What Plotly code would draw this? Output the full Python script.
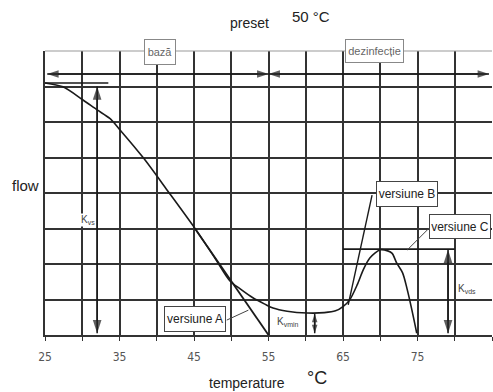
import plotly.graph_objects as go

# ---- data (temperature °C, relative flow) ----
common_t = [25.0, 27.4, 30.1, 32.0, 33.7, 35.1, 38.2, 41.4, 45.1, 47.8, 49.8]
common_v = [7.10, 6.99, 6.62, 6.34, 6.10, 5.77, 4.99, 4.08, 3.01, 2.17, 1.53]

versionA_t = [45.1, 55.0]
versionA_v = [3.01, 0.0]

valley_t = [51.2, 52.9, 54.5, 55.6, 57.5, 60.2, 62.5, 64.0, 65.0, 65.9]
valley_v = [1.30, 1.05, 0.87, 0.76, 0.67, 0.62, 0.63, 0.68, 0.80, 0.99]

versionC_t = [66.9, 67.7, 68.6, 70.0, 71.0, 71.6, 72.2, 73.0, 73.6, 74.2, 74.9]
versionC_v = [1.41, 1.83, 2.17, 2.40, 2.37, 2.30, 2.03, 1.75, 1.30, 0.75, 0.05]

versionB_t = [65.7, 68.9]
versionB_v = [0.85, 3.94]

kvs_line_t = [25.0, 33.5]
kvs_line_v = [7.10, 7.10]
kvds_line_t = [65.0, 80.0]
kvds_line_v = [2.42, 2.42]

leaderA_t = [49.4, 52.3]
leaderA_v = [0.42, 0.70]
leaderC_t = [73.6, 76.7]
leaderC_v = [2.39, 3.04]

range_arrow_v = 7.35
range_t = [25.3, 55.0, 84.6]

kvs_arrow = dict(t=32.0, top=7.0, bottom=0.05)
kvmin_arrow = dict(t=61.2, top=0.60, bottom=0.05)
kvds_arrow = dict(t=79.1, top=2.40, bottom=0.05)

tick_vals = [25, 35, 45, 55, 65, 75, 85]
tick_text = ["25", "35", "45", "55", "65", "75", "85"]
minor_grid = [30, 40, 50, 60, 70, 80]
y_grid = [0, 1, 2, 3, 4, 5, 6, 7]

# text, x, y, font size, text colour, border colour, box width, box height
boxes = [
    ("bază", 40.4, 7.96, 11, "#666", "#888", 28, 22),
    ("dezinfecție", 69.2, 7.99, 11, "#666", "#888", 55, 20),
    ("versiune A", 45.1, 0.44, 12, "#222", "#444", 58, 22),
    ("versiune B", 73.6, 3.96, 12, "#222", "#444", 58, 22),
    ("versiune C", 80.7, 3.07, 12, "#222", "#444", 58, 21),
]
k_labels = [
    ("K<sub>vs</sub>", 30.8, 3.24),
    ("K<sub>vmin</sub>", 57.6, 0.37),
    ("K<sub>vds</sub>", 81.6, 1.30),
]

FONT = "Liberation Sans, Arial, sans-serif"
NARROW = "Liberation Sans Narrow, DejaVu Sans Condensed, Arial Narrow, sans-serif"
LINE = "#1a1a1a"
GRID = "#333"

fig = go.Figure()


def seg(t, v, w=1.6, c=LINE, shape="linear"):
    fig.add_trace(go.Scatter(x=t, y=v, mode="lines",
                             line=dict(color=c, width=w, shape=shape, smoothing=0.8),
                             hoverinfo="skip", showlegend=False, cliponaxis=False))


def head(x0, y0, x1, y1, size):
    # line from (x0,y0) to (x1,y1) with an arrow head whose tip sits at (x1,y1)
    fig.add_trace(go.Scatter(x=[x0, x1], y=[y0, y1], mode="lines+markers",
                             line=dict(color=LINE, width=1.5),
                             marker=dict(symbol="arrow", angleref="previous", size=[0, size],
                                         color=LINE, line=dict(width=0)),
                             hoverinfo="skip", showlegend=False, cliponaxis=False))


def darrow(x0, y0, x1, y1, size=13):
    head(x0, y0, x1, y1, size)
    head(x1, y1, x0, y0, size)


seg(common_t + valley_t + versionC_t, common_v + valley_v + versionC_v, 1.6, shape="spline")
seg(versionA_t, versionA_v, 1.8)
seg(versionB_t, versionB_v, 1.4)
seg(kvs_line_t, kvs_line_v, 1.6)
seg(kvds_line_t, kvds_line_v, 1.6)
seg(leaderA_t, leaderA_v, 1.0, "#444")
seg(leaderC_t, leaderC_v, 1.0, "#444")

darrow(range_t[0], range_arrow_v, range_t[1], range_arrow_v, 12)
darrow(range_t[1], range_arrow_v, range_t[2], range_arrow_v, 12)
darrow(kvs_arrow["t"], kvs_arrow["bottom"], kvs_arrow["t"], kvs_arrow["top"], 14)
darrow(kvmin_arrow["t"], kvmin_arrow["bottom"], kvmin_arrow["t"], kvmin_arrow["top"], 9)
darrow(kvds_arrow["t"], kvds_arrow["bottom"], kvds_arrow["t"], kvds_arrow["top"], 14)

annotations = []
for txt, x, y, size, col, bcol, w, h in boxes:
    annotations.append(dict(x=x, y=y, xref="x", yref="y", text=txt, showarrow=False,
                            xanchor="center", yanchor="middle", width=w, height=h,
                            font=dict(family=FONT, size=size, color=col), bgcolor="white",
                            bordercolor=bcol, borderwidth=1, borderpad=1))
for txt, x, y in k_labels:
    annotations.append(dict(x=x, y=y, xref="x", yref="y", text=txt, showarrow=False,
                            xanchor="center", yanchor="middle",
                            font=dict(family=FONT, size=10, color="#444"), bgcolor="white", borderpad=0))

texts = [
    ("preset", 0.4586, 1.0986, 14),
    ("50 °C", 0.595, 1.123, 15),
    ("flow", -0.0447, 0.528, 15),
    ("temperature", 0.452, -0.169, 14),
    ("°C", 0.6085, -0.151, 18),
]
for txt, x, y, size in texts:
    annotations.append(dict(x=x, y=y, xref="paper", yref="paper", text=txt, showarrow=False,
                            xanchor="center", yanchor="middle",
                            font=dict(family=FONT, size=size, color="#222")))

fig.update_layout(
    width=493, height=392,
    margin=dict(l=45, r=1, t=51, b=57, autoexpand=False),
    paper_bgcolor="white", plot_bgcolor="white",
    font=dict(family=FONT),
    annotations=annotations,
    shapes=[dict(type="line", xref="paper", yref="paper", x0=0, x1=1, y0=1, y1=1,
                 line=dict(color="#999", width=1))],
    xaxis=dict(range=[25, 85], tickvals=tick_vals, ticktext=tick_text,
               showgrid=True, gridcolor=GRID, gridwidth=1.5,
               minor=dict(tickvals=minor_grid, showgrid=True, gridcolor=GRID, gridwidth=1.5,
                          ticks="outside", ticklen=4, tickcolor=GRID, tickwidth=1),
               showline=True, linecolor=GRID, linewidth=1.5,
               ticks="outside", ticklen=4, tickcolor=GRID, tickwidth=1,
               ticklabelstandoff=6, automargin=False,
               tickfont=dict(family=NARROW, size=12, color="#555"),
               zeroline=False, fixedrange=True),
    yaxis=dict(range=[0, 8], tickvals=y_grid, showticklabels=False,
               showgrid=True, gridcolor=GRID, gridwidth=1.5,
               showline=True, linecolor=GRID, linewidth=1.5, automargin=False,
               zeroline=False, fixedrange=True),
)

fig.write_html("out.html", config={"displayModeBar": False},
               post_script="document.body.style.margin='0';document.body.style.overflow='hidden';")
